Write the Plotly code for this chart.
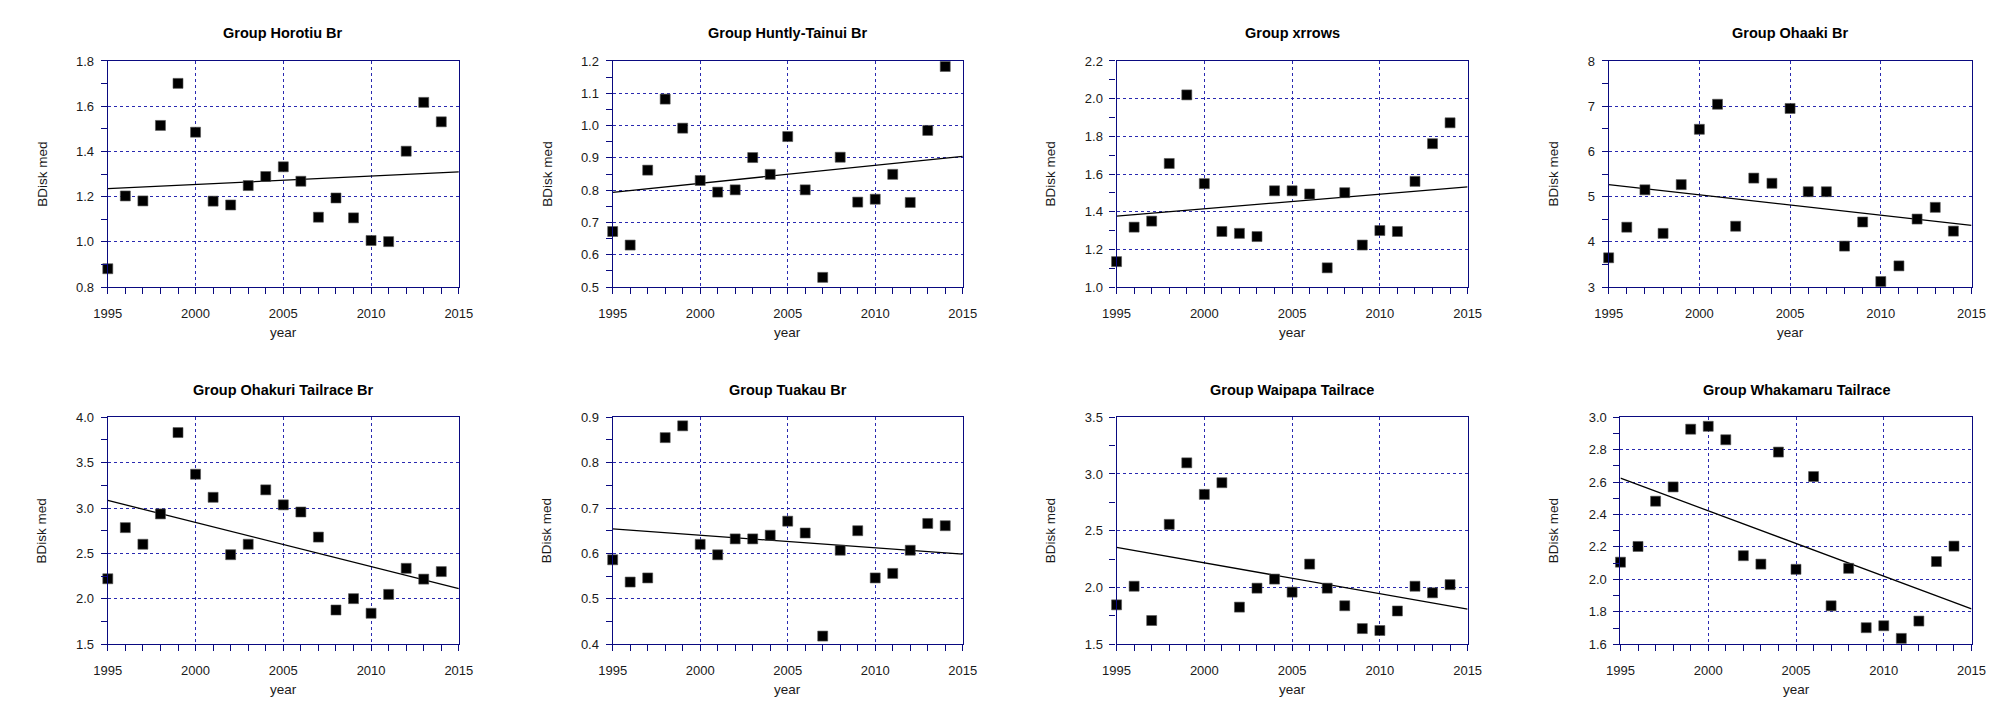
import numpy as np
import plotly.graph_objects as go

years = list(range(1995, 2015))

titles = ["Group Horotiu Br", "Group Huntly-Tainui Br", "Group xrrows", "Group Ohaaki Br",
          "Group Ohakuri Tailrace Br", "Group Tuakau Br", "Group Waipapa Tailrace", "Group Whakamaru Tailrace"]

horotiu = [0.881, 1.203, 1.181, 1.515, 1.701, 1.485, 1.180, 1.163, 1.249, 1.289,
           1.332, 1.268, 1.109, 1.194, 1.106, 1.006, 1.001, 1.401, 1.617, 1.531]
huntly = [0.672, 0.630, 0.862, 1.082, 0.992, 0.830, 0.794, 0.801, 0.901, 0.849,
          0.966, 0.801, 0.530, 0.902, 0.763, 0.772, 0.849, 0.762, 0.985, 1.183]
xrrows = [1.135, 1.318, 1.350, 1.656, 2.020, 1.549, 1.295, 1.285, 1.268, 1.511,
          1.511, 1.494, 1.102, 1.501, 1.223, 1.300, 1.295, 1.561, 1.761, 1.872]
ohaaki = [3.647, 4.324, 5.151, 4.187, 5.266, 6.489, 7.043, 4.345, 5.410, 5.295,
          6.950, 5.108, 5.108, 3.906, 4.439, 3.122, 3.468, 4.504, 4.763, 4.237]
ohakuri = [2.221, 2.784, 2.601, 2.935, 3.831, 3.372, 3.118, 2.486, 2.601, 3.200,
           3.035, 2.956, 2.680, 1.877, 2.002, 1.841, 2.049, 2.336, 2.217, 2.300]
tuakau = [0.586, 0.537, 0.546, 0.855, 0.881, 0.620, 0.597, 0.632, 0.632, 0.640,
          0.671, 0.645, 0.418, 0.607, 0.650, 0.546, 0.556, 0.607, 0.666, 0.661]
waipapa = [1.847, 2.011, 1.709, 2.556, 3.098, 2.820, 2.923, 1.827, 1.994, 2.074,
           1.959, 2.206, 1.994, 1.839, 1.638, 1.621, 1.793, 2.011, 1.953, 2.025]
whakamaru = [2.106, 2.203, 2.482, 2.570, 2.926, 2.944, 2.861, 2.146, 2.094, 2.785,
             2.062, 2.634, 1.837, 2.068, 1.702, 1.714, 1.636, 1.743, 2.110, 2.205]

series = [horotiu, huntly, xrrows, ohaaki, ohakuri, tuakau, waipapa, whakamaru]

y_ranges = [(0.8, 1.8), (0.5, 1.2), (1.0, 2.2), (3, 8), (1.5, 4.0), (0.4, 0.9), (1.5, 3.5), (1.6, 3.0)]
y_major = [0.2, 0.1, 0.2, 1, 0.5, 0.1, 0.5, 0.2]
y_fmt = [".1f", ".1f", ".1f", "d", ".1f", ".1f", ".1f", ".1f"]

W, H = 2015, 701
# plot-area pixel boxes (left, right, top, bottom)
lefts = [87, 599, 1110, 1609, 87, 599, 1110, 1621]
rights = [443, 954, 1466, 1977, 443, 954, 1466, 1977]
tops = [47, 47, 47, 47, 411, 411, 411, 411]
bottoms = [278, 278, 278, 278, 643, 643, 643, 643]
ytitle_x = [20, 532, 1043, 1553, 20, 532, 1043, 1553]

FRAME = "#0a0a80"
GRID = "#2a2ab0"
TXT = "#1a1a1a"
FONT = "Liberation Sans, Arial, sans-serif"

fig = go.Figure()
annotations = []
for i in range(8):
    n = i + 1
    xa = "x" if n == 1 else f"x{n}"
    ya = "y" if n == 1 else f"y{n}"
    vals = series[i]
    slope, intercept = np.polyfit(years, vals, 1)
    xl = [1995, 2015]
    fig.add_trace(go.Scatter(x=xl, y=[intercept + slope * v for v in xl], mode="lines",
                             line=dict(color="black", width=1.3), xaxis=xa, yaxis=ya,
                             showlegend=False, hoverinfo="skip"))
    fig.add_trace(go.Scatter(x=years, y=vals, mode="markers",
                             marker=dict(symbol="square", size=10, color="black",
                                         line=dict(width=0.6, color="#555555")),
                             xaxis=xa, yaxis=ya, showlegend=False, cliponaxis=False))
    xdom = [lefts[i] / W, rights[i] / W]
    ydom = [1 - bottoms[i] / H, 1 - tops[i] / H]
    common = dict(showline=True, mirror=True, linecolor=FRAME, linewidth=1.2,
                  showgrid=True, gridcolor=GRID, griddash="dot", gridwidth=1,
                  zeroline=False, ticks="outside", ticklen=6, tickcolor=FRAME, tickwidth=1.2,
                  tickfont=dict(family=FONT, size=13, color=TXT))
    fig.update_layout({
        ("xaxis" if n == 1 else f"xaxis{n}"): dict(
            domain=xdom, anchor=ya, range=[1995, 2015], tick0=1995, dtick=5,
            minor=dict(dtick=1, ticks="outside", ticklen=6, tickcolor=FRAME, tickwidth=1.2, showgrid=False),
            ticklabelstandoff=8, **common),
        ("yaxis" if n == 1 else f"yaxis{n}"): dict(
            domain=ydom, anchor=xa, range=list(y_ranges[i]), tick0=y_ranges[i][0], dtick=y_major[i],
            tickformat=y_fmt[i],
            minor=dict(dtick=y_major[i] / 2, ticks="outside", ticklen=6, tickcolor=FRAME, tickwidth=1.2, showgrid=False),
            ticklabelstandoff=4, **common),
    })
    cx = (lefts[i] + rights[i]) / 2 / W
    title_y = 18 if i < 4 else 383
    annotations.append(dict(text=titles[i], x=cx, y=1 - title_y / H, xref="paper", yref="paper",
                            showarrow=False, xanchor="center", yanchor="middle",
                            font=dict(family=FONT, size=14.5, color="black", weight="bold")))
    year_y = 324 if i < 4 else 689
    annotations.append(dict(text="year", x=cx, y=1 - year_y / H, xref="paper", yref="paper",
                            showarrow=False, xanchor="center", yanchor="middle",
                            font=dict(family=FONT, size=13.5, color=TXT)))
    annotations.append(dict(text="BDisk med", x=ytitle_x[i] / W, y=1 - (tops[i] + bottoms[i]) / 2 / H,
                            xref="paper", yref="paper", showarrow=False, textangle=-90,
                            xanchor="center", yanchor="middle",
                            font=dict(family=FONT, size=13.5, color=TXT)))

fig.update_layout(width=W, height=H, margin=dict(l=0, r=0, t=0, b=0),
                  paper_bgcolor="white", plot_bgcolor="white", annotations=annotations)
fig.write_html("out.html")
